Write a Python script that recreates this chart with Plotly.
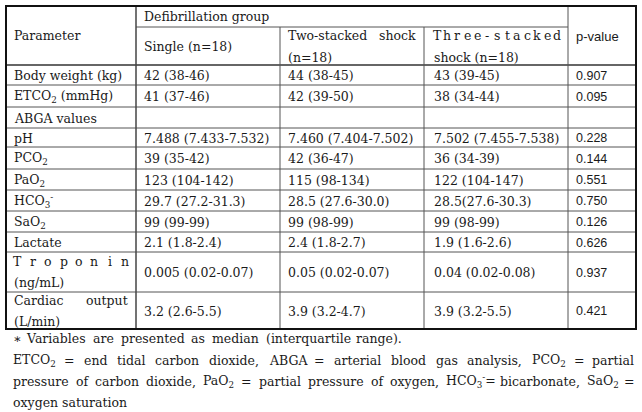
import re
import plotly.graph_objects as go

# ---------------- data ----------------
params = ["Body weight (kg)", "ETCO<sub>2</sub> (mmHg)", "ABGA values", "pH", "PCO<sub>2</sub>",
          "PaO<sub>2</sub>", "HCO<sub>3</sub><sup>-</sup>", "SaO<sub>2</sub>", "Lactate",
          "Troponin|(ng/mL)", "Cardiac output|(L/min)"]
single = ["42 (38-46)", "41 (37-46)", "", "7.488 (7.433-7.532)", "39 (35-42)", "123 (104-142)",
          "29.7 (27.2-31.3)", "99 (99-99)", "2.1 (1.8-2.4)", "0.005 (0.02-0.07)", "3.2 (2.6-5.5)"]
two_stacked = ["44 (38-45)", "42 (39-50)", "", "7.460 (7.404-7.502)", "42 (36-47)", "115 (98-134)",
               "28.5 (27.6-30.0)", "99 (98-99)", "2.4 (1.8-2.7)", "0.05 (0.02-0.07)", "3.9 (3.2-4.7)"]
three_stacked = ["43 (39-45)", "38 (34-44)", "", "7.502 (7.455-7.538)", "36 (34-39)", "122 (104-147)",
                 "28.5(27.6-30.3)", "99 (98-99)", "1.9 (1.6-2.6)", "0.04 (0.02-0.08)", "3.9 (3.2-5.5)"]
p_values = ["0.907", "0.095", "", "0.228", "0.144", "0.551", "0.750", "0.126", "0.626", "0.937", "0.421"]

header_group = "Defibrillation group"
header_param = "Parameter"
header_single = "Single (n=18)"
header_two = ["Two-stacked", "shock", "(n=18)"]
header_three = ["Three-stacked", "shock (n=18)"]
header_p = "p-value"

footnotes = [
    "∗ Variables are presented as median (interquartile range).",
    "ETCO<sub>2</sub> = end tidal carbon dioxide, ABGA = arterial blood gas analysis, PCO<sub>2</sub> = partial",
    "pressure of carbon dioxide, PaO<sub>2</sub> = partial pressure of oxygen, HCO<sub>3</sub><sup>-</sup>= bicarbonate, SaO<sub>2</sub> =",
    "oxygen saturation",
]

# ---------------- layout geometry (pixels) ----------------
W, H = 642, 412
XL, XR = 6, 636
COLS = [6, 136, 280, 424, 568, 636]
YT = 6
Y_GROUP = 27
Y_HDR = 65
ROW_BOTTOMS = [85, 107, 128, 147, 169, 190, 211, 232, 252, 292, 329]
PAD = 7

SERIF = "DejaVu Serif"
SANS = "Liberation Sans Narrow, Liberation Sans, Arial"
FS = 12.5
TXT = "#1a1a1a"

fig = go.Figure()
fig.add_trace(go.Scatter(x=[0, W], y=[0, H], mode="markers", marker=dict(opacity=0), hoverinfo="skip",
                         showlegend=False))

annots = []


def txt(x, y, s, anchor="left", font=SERIF, size=FS):
    if not s:
        return
    annots.append(dict(x=x, y=y, xref="x", yref="y", text=s, showarrow=False, xanchor=anchor,
                       yanchor="middle", font=dict(family=font, size=size, color=TXT), borderpad=0))


CW = {' ': .318, 'a': .596, 'b': .640, 'c': .560, 'd': .640, 'e': .592, 'f': .370, 'g': .640, 'h': .644,
      'i': .320, 'j': .310, 'k': .606, 'l': .320, 'm': .948, 'n': .644, 'o': .602, 'p': .640, 'q': .640,
      'r': .478, 's': .513, 't': .402, 'u': .644, 'v': .565, 'w': .856, 'x': .564, 'y': .565, 'z': .527,
      ',': .318, '.': .318, '=': .838, '-': .338, '2': .45, '3': .45, '(': .39, ')': .39, '∗': .5}


def est_width(plain, size=FS):
    return sum(CW.get(c, .72) for c in plain) * size


def strip(s):
    return re.sub(r"</?su[bp]>", "", s)


def justify(x0, x1, y, s, font=SERIF, size=FS):
    words = s.split(" ")
    widths = [est_width(strip(w), size) for w in words]
    gap = (x1 - x0 - sum(widths)) / (len(words) - 1)
    x = x0
    for i, (w, wd) in enumerate(zip(words, widths)):
        if i == len(words) - 1:
            txt(x1, y, w, "right", font, size)
        else:
            txt(x, y, w, "left", font, size)
        x += wd + gap


def spread(x0, x1, y, s, size=FS):
    chars = list(s)
    n = len(chars)
    w0 = CW.get(chars[0], .72) * size / 2
    w1 = CW.get(chars[-1], .72) * size / 2
    a, b = x0 + w0, x1 - w1
    for i, c in enumerate(chars):
        txt(a + (b - a) * i / (n - 1), y, c, "center", SERIF, size)


# ---------------- header ----------------
txt(COLS[0] + PAD, 35, header_param)
txt(COLS[1] + PAD, 16, header_group)
txt(COLS[1] + PAD, 46, header_single)
txt(COLS[2] + PAD, 35, header_two[0])
txt(COLS[3] - 7, 35, header_two[1], "right")
txt(COLS[2] + PAD, 57, header_two[2])
spread(COLS[3] + PAD + 2, COLS[4] - 7, 35, header_three[0])
txt(COLS[3] + PAD + 2, 57, header_three[1])
txt(COLS[4] + PAD, 36, header_p, font=SANS, size=13)

# ---------------- body ----------------
tops = [Y_HDR] + ROW_BOTTOMS[:-1]
for i, (p, a, b, c, pv) in enumerate(zip(params, single, two_stacked, three_stacked, p_values)):
    y0, y1 = tops[i], ROW_BOTTOMS[i]
    yc = (y0 + y1) / 2 + 0.5
    if "|" in p:
        l1, l2 = p.split("|")
        ya, yb = yc - 11, yc + 10
        if " " in l1:
            justify(COLS[0] + PAD, COLS[1] - 7, ya, l1)
        else:
            spread(COLS[0] + PAD, COLS[1] - 7, ya, l1)
        txt(COLS[0] + PAD, yb, l2)
    else:
        txt(COLS[0] + PAD, yc, p)
    txt(COLS[1] + PAD, yc, a)
    txt(COLS[2] + PAD, yc, b)
    txt(COLS[3] + PAD + 2, yc, c)
    txt(COLS[4] + PAD, yc, pv, font=SANS, size=12.5)

# ---------------- footnotes ----------------
FY = [338, 360, 381, 402]
justify(12, 403, FY[0], footnotes[0])
justify(12, 635, FY[1], footnotes[1])
justify(12, 635, FY[2], footnotes[2])
txt(12, FY[3], footnotes[3])

# ---------------- grid lines ----------------
shapes = []
INNER = dict(color="#555555", width=1)
OUTER = dict(color="#111111", width=2)


def line(x0, y0, x1, y1, style):
    shapes.append(dict(type="line", xref="x", yref="y", x0=x0, y0=y0, x1=x1, y1=y1, line=style))


line(COLS[1], Y_GROUP, COLS[4], Y_GROUP, INNER)
line(XL, Y_HDR, XR, Y_HDR, dict(color="#333333", width=1.5))
for yb in ROW_BOTTOMS[:-1]:
    line(XL, yb, XR, yb, INNER)
line(COLS[1], YT, COLS[1], ROW_BOTTOMS[-1], dict(color="#444444", width=1.5))
line(COLS[2], Y_GROUP, COLS[2], ROW_BOTTOMS[-1], INNER)
line(COLS[3], Y_GROUP, COLS[3], ROW_BOTTOMS[-1], INNER)
line(COLS[4], YT, COLS[4], ROW_BOTTOMS[-1], INNER)
shapes.append(dict(type="rect", xref="x", yref="y", x0=XL, y0=YT, x1=XR, y1=ROW_BOTTOMS[-1],
                   line=OUTER, fillcolor="rgba(0,0,0,0)"))

fig.update_layout(
    width=W, height=H, margin=dict(l=0, r=0, t=0, b=0),
    paper_bgcolor="white", plot_bgcolor="white",
    xaxis=dict(range=[0, W], visible=False, fixedrange=True),
    yaxis=dict(range=[H, 0], visible=False, fixedrange=True),
    annotations=annots, shapes=shapes, showlegend=False,
)

fig.write_html("out.html", config={"displayModeBar": False},
               post_script="document.body.style.margin='0';document.body.style.overflow='hidden';")
